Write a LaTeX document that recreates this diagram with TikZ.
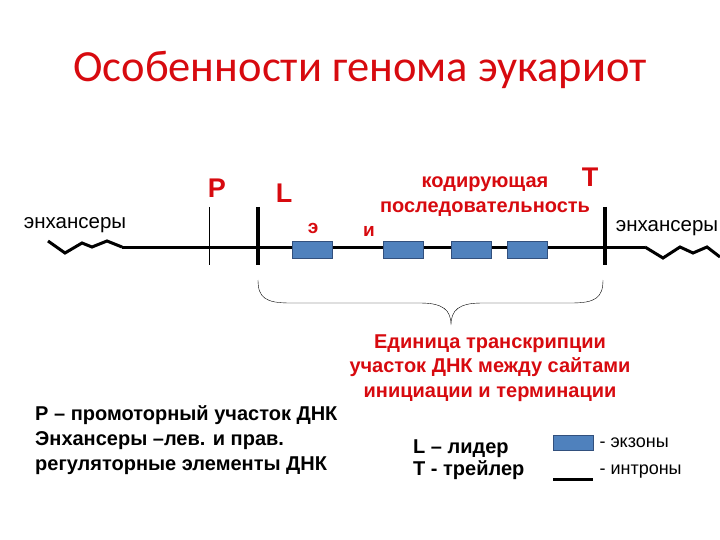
\documentclass[tikz,border=0pt]{standalone}
\usepackage{fontspec}
\setmainfont{Liberation Sans}
\newfontfamily\titlefont{Carlito}
\definecolor{exonblue}{RGB}{79,129,189}
\definecolor{exonedge}{RGB}{50,80,125}
\definecolor{labred}{RGB}{215,10,15}

\begin{document}
\begin{tikzpicture}[x=1pt,y=-1pt,
  lbl/.style={font=\bfseries\fontsize{27}{27}\selectfont,text=labred,inner sep=0pt},
  small/.style={font=\bfseries\fontsize{19}{19}\selectfont,text=labred,inner sep=0pt},
  rtxt/.style={font=\bfseries\fontsize{20}{24.5}\selectfont,text=labred,align=center},
  btxt/.style={font=\bfseries\fontsize{20}{25}\selectfont,align=left,inner sep=0pt},
  exon/.style={draw=exonedge,fill=exonblue,line width=1pt,minimum width=40pt,minimum height=17pt,inner sep=0pt},
  dna/.style={line width=3pt}]
\useasboundingbox (0,0) rectangle (720,540);
\node[font=\titlefont\fontsize{44.5}{44.5}\selectfont,text=labred] (title) at (360,70) {Особенности генома эукариот};

% the gene
\coordinate (lend) at (122,247);
\coordinate (rend) at (645,247);
\draw[dna] (48,241) -- (65,253) -- (82,243) -- (92,247) -- (107,241) -- (lend);
\draw[dna] (lend) -- (rend);
\draw[dna] (rend) -- (663,258) -- (680,247) -- (693,253) -- (707,247) -- (720,257);
\draw[thin] (209,207) -- (209,265);
\draw[line width=4pt] (258,207) -- (258,265);
\draw[line width=4pt] (605,207) -- (605,265);
\node[exon] (ex1) at (312.5,249.5) {};
\node[exon] (ex2) at (403,249.5) {};
\node[exon] (ex3) at (471,249.5) {};
\node[exon] (ex4) at (527,249.5) {};

% labels
\node[lbl] (P) at (217,188) {P};
\node[lbl] (L) at (284,193) {L};
\node[lbl] (T) at (590,177) {T};
\node[small] (ee) at (313,228) {э};
\node[small] (ii) at (369,231) {и};
\node[rtxt,font=\bfseries\fontsize{20}{25}\selectfont] (cod) at (485,197) {кодирующая\\последовательность};
\node[font=\fontsize{20.5}{20.5}\selectfont] (enhL) at (75,225) {энхансеры};
\node[font=\fontsize{20.5}{20.5}\selectfont] (enhR) at (667,228) {энхансеры};

% brace
\draw (258,280) .. controls (258,298) and (266,303) .. (290,303) -- (420,303)
  .. controls (443,303) and (451,310) .. (451,325)
  .. controls (451,310) and (459,303) .. (482,303) -- (571,303)
  .. controls (595,303) and (603,298) .. (603,280);
\node[rtxt] (unit) at (490,368) {Единица транскрипции\\участок ДНК между сайтами\\инициации и терминации};

% notes
\node[btxt,anchor=west] (notes) at (35,440) {Р – промоторный участок ДНК\\Энхансеры –лев. и прав.\\регуляторные элементы ДНК};
\node[btxt,anchor=west,font=\bfseries\fontsize{20}{22}\selectfont] (LT) at (413,460) {L – лидер\\T - трейлер};

% legend
\node[exon,minimum height=15pt] (legex) at (573,443) {};
\coordinate (intA) at (553,479);
\coordinate (intB) at (593,479);
\draw[dna] (intA) -- (intB);
\node[anchor=west,font=\fontsize{18}{18}\selectfont] (exlab) at (596,443) {- экзоны};
\node[anchor=west,font=\fontsize{18}{18}\selectfont] (inlab) at (596,472) {- интроны};
\end{tikzpicture}
\end{document}
